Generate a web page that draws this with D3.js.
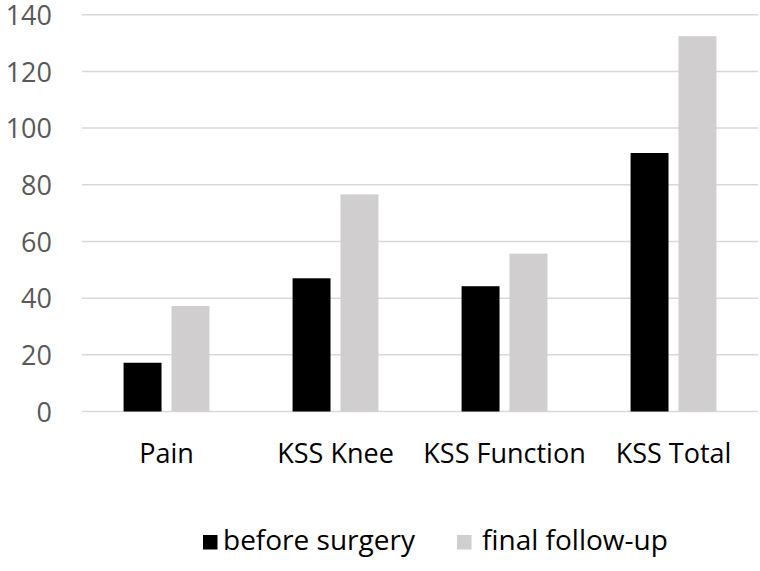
<!DOCTYPE html>
<html>
<head>
<meta charset="utf-8">
<script src="https://cdn.jsdelivr.net/npm/d3@7"></script>
<style>
  html, body { margin: 0; padding: 0; background: #fff; }
  svg { display: block; }
  text { font-family: "Open Sans", sans-serif; }
</style>
</head>
<body>
<div id="chart"></div>
<script>
const categories = ["Pain", "KSS Knee", "KSS Function", "KSS Total"];
const seriesNames = ["before surgery", "final follow-up"];
const beforeSurgery = [17.2, 47.0, 44.2, 91.2];
const finalFollowUp = [37.2, 76.6, 55.7, 132.4];
const yTicks = [0, 20, 40, 60, 80, 100, 120, 140];
const seriesColors = ["#000000", "#d0cece"];

const W = 760, H = 571;
const FONT = "'Open Sans', sans-serif";
const svg = d3.select("#chart").append("svg").attr("width", W).attr("height", H);

const plot = { left: 82, right: 758, top: 14.7, bottom: 411.5 };

const y = d3.scaleLinear().domain([0, 140]).range([plot.bottom, plot.top]);
const x0 = d3.scaleBand().domain(categories).range([plot.left, plot.right]).padding(0);
const groupW = x0.step() * 0.508;
const x1 = d3.scaleBand().domain(seriesNames).range([0, groupW]).paddingInner(0.208).paddingOuter(0);

// gridlines
svg.append("g").selectAll("line").data(yTicks).join("line")
  .attr("x1", plot.left).attr("x2", plot.right)
  .attr("y1", d => y(d)).attr("y2", d => y(d))
  .attr("stroke", "#d9d9d9").attr("stroke-width", 1.5);

// y labels
const yAxis = d3.axisLeft(y).tickValues(yTicks).tickSize(0).tickPadding(0);
const yg = svg.append("g").attr("transform", `translate(52,0)`).call(yAxis);
yg.select(".domain").remove();
yg.selectAll("text").attr("fill", "#595959").attr("font-size", 27)
  .attr("font-family", FONT).attr("dy", "0.36em");

const data = categories.map((c, i) => ({ cat: c, vals: [beforeSurgery[i], finalFollowUp[i]] }));

const groups = svg.append("g").selectAll("g").data(data).join("g")
  .attr("transform", d => `translate(${x0(d.cat) + (x0.bandwidth() - groupW) / 2},0)`);

groups.selectAll("rect").data(d => d.vals.map((v, j) => ({ s: seriesNames[j], v, j })))
  .join("rect")
  .attr("x", d => x1(d.s))
  .attr("width", x1.bandwidth())
  .attr("y", d => y(d.v))
  .attr("height", d => y(0) - y(d.v))
  .attr("fill", d => seriesColors[d.j]);

// x labels
const xAxis = d3.axisBottom(x0).tickSize(0).tickPadding(0);
const xg = svg.append("g").attr("transform", `translate(0,463)`).call(xAxis);
xg.select(".domain").remove();
xg.selectAll("text").attr("fill", "#000").attr("font-size", 27)
  .attr("font-family", FONT).attr("dy", 0);

// legend
const legendItems = [
  { name: seriesNames[0], color: seriesColors[0], sx: 203, tx: 223 },
  { name: seriesNames[1], color: seriesColors[1], sx: 457, tx: 482 }
];
const lg = svg.append("g");
lg.selectAll("rect").data(legendItems).join("rect")
  .attr("x", d => d.sx).attr("y", 535).attr("width", 14.5).attr("height", 14.5)
  .attr("fill", d => d.color);
lg.selectAll("text").data(legendItems).join("text")
  .attr("x", d => d.tx).attr("y", 550)
  .attr("font-size", 28).attr("fill", "#000").attr("font-family", FONT)
  .text(d => d.name);
</script>
</body>
</html>
